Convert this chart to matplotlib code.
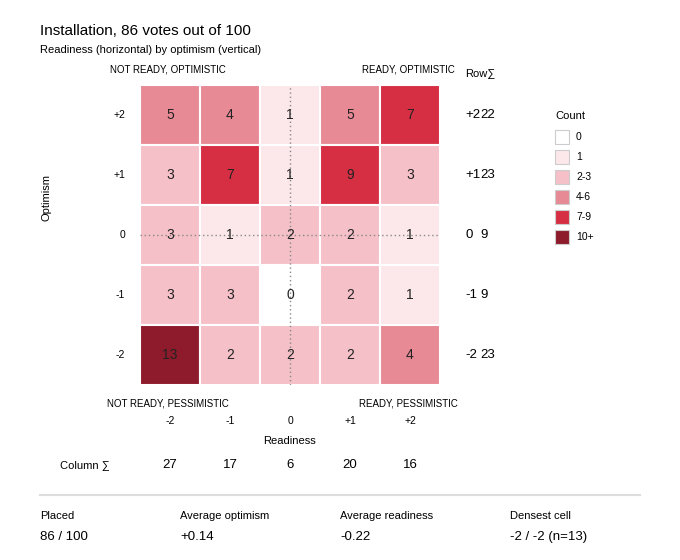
import matplotlib
matplotlib.use("Agg")
import matplotlib.pyplot as plt
from matplotlib.patches import Rectangle
import numpy as np

plt.rcParams['font.family'] = ['Liberation Sans', 'DejaVu Sans']

levels = [2, 1, 0, -1, -2]          # optimism, top to bottom
readiness = [-2, -1, 0, 1, 2]
counts = np.array([
    [5, 4, 1, 5, 7],
    [3, 7, 1, 9, 3],
    [3, 1, 2, 2, 1],
    [3, 3, 0, 2, 1],
    [13, 2, 2, 2, 4],
])
bins = ["0", "1", "2-3", "4-6", "7-9", "10+"]
bin_colors = ["#ffffff", "#fce8ea", "#f5c0c8", "#e88a96", "#d62f44", "#8e1b2b"]

def bin_color(v):
    if v == 0: return bin_colors[0]
    if v == 1: return bin_colors[1]
    if v <= 3: return bin_colors[2]
    if v <= 6: return bin_colors[3]
    if v <= 9: return bin_colors[4]
    return bin_colors[5]

def fmt(v):
    return "0" if v == 0 else "%+d" % v

W, H = 680, 560
fig = plt.figure(figsize=(W / 100, H / 100), dpi=100)

def T(x, y, s, **kw):
    fig.text(x / W, 1 - y / H, s, **kw)

ax = fig.add_axes([140 / W, 1 - 385 / H, 300 / W, 300 / H])
ax.set_xlim(0, 5)
ax.set_ylim(0, 5)
ax.axis("off")
for r in range(5):
    for c in range(5):
        v = counts[r, c]
        ax.add_patch(Rectangle((c, 4 - r), 1, 1, facecolor=bin_color(v),
                               edgecolor="white", linewidth=1.5))
        ax.text(c + 0.5, 4 - r + 0.5, str(v), ha="center", va="center",
                fontsize=10, color="#222222")
ax.plot([2.5, 2.5], [0, 5], ls=(0, (1, 2)), color="#888888", lw=1)
ax.plot([0, 5], [2.5, 2.5], ls=(0, (1, 2)), color="#888888", lw=1)

T(40, 31, "Installation, 86 votes out of 100", fontsize=11, va="center")
T(40, 50, "Readiness (horizontal) by optimism (vertical)", fontsize=8, va="center")
T(110, 70, "NOT READY, OPTIMISTIC", fontsize=7, va="center")
T(362, 70, "READY, OPTIMISTIC", fontsize=7, va="center")
T(465, 74, "Row∑", fontsize=8, va="center")
T(107, 404, "NOT READY, PESSIMISTIC", fontsize=7, va="center")
T(359, 404, "READY, PESSIMISTIC", fontsize=7, va="center")
T(46, 197, "Optimism", fontsize=8, va="center", ha="center", rotation=90)

for r, lv in enumerate(levels):
    y = 115 + 60 * r
    T(125, y, fmt(lv), fontsize=7.5, ha="right", va="center")
    T(465, y, fmt(lv), fontsize=9.5, va="center")
    T(480, y, str(counts[r].sum()), fontsize=9.5, va="center")

col_sums = counts.sum(axis=0)
for c, rv in enumerate(readiness):
    x = 170 + 60 * c
    T(x, 421, fmt(rv), fontsize=7.5, ha="center", va="center")
    T(x, 465, str(col_sums[c]), fontsize=9.5, ha="center", va="center")
T(290, 441, "Readiness", fontsize=8, ha="center", va="center")
T(60, 466, "Column ∑", fontsize=8, va="center")

T(555, 116, "Count", fontsize=8, va="center")
for i, (b, col) in enumerate(zip(bins, bin_colors)):
    y = 137 + 20 * i
    fig.patches.append(Rectangle((555 / W, 1 - (y + 7) / H), 14 / W, 14 / H,
                                 facecolor=col, edgecolor="#cccccc", lw=0.8,
                                 transform=fig.transFigure))
    T(576, y, b, fontsize=7.5, va="center")

fig.add_artist(plt.Line2D([40 / W, 640 / W], [1 - 495 / H] * 2,
                          color="#dddddd", lw=1.5, transform=fig.transFigure))
stats = [("Placed", "86 / 100", 40), ("Average optimism", "+0.14", 180),
         ("Average readiness", "-0.22", 340), ("Densest cell", "-2 / -2 (n=13)", 510)]
for lab, val, x in stats:
    T(x, 516, lab, fontsize=8, va="center")
    T(x, 537, val, fontsize=9.5, va="center")

fig.savefig("out.png", dpi=100, facecolor="white")
